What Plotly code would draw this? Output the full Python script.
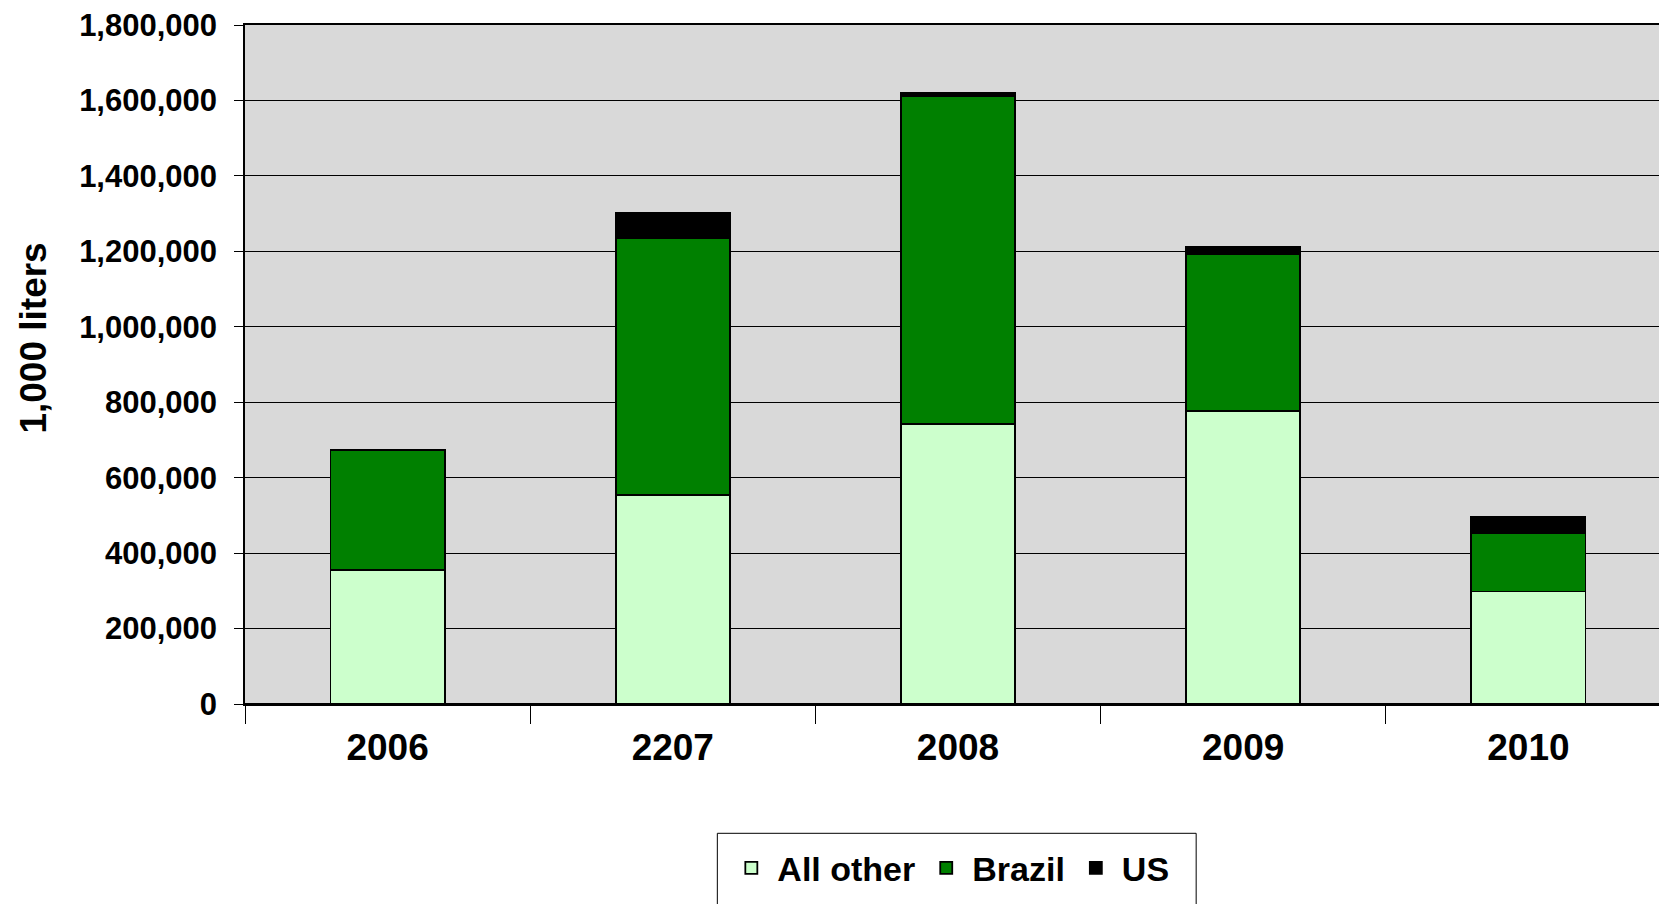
import plotly.graph_objects as go

categories = ["2006", "2207", "2008", "2009", "2010"]
all_other = [356000, 555000, 742000, 777000, 298000]
brazil = [318000, 680000, 870000, 416000, 156000]
us = [0, 68000, 7000, 19000, 43000]
y_ticks = [0, 200000, 400000, 600000, 800000, 1000000, 1200000, 1400000, 1600000, 1800000]

FONT = "Liberation Sans, Arial, sans-serif"
W, H = 1659, 904
L, R, T, B = 244.5, 0, 24.5, 199.5
PW, PH = W - L - R, H - T - B


def px_x(x):
    return (x - L) / PW


def px_y(y):
    return (H - B - y) / PH


fig = go.Figure()
for name, vals, col in [("All other", all_other, "#CCFFCC"),
                        ("Brazil", brazil, "#008000"),
                        ("US", us, "#000000")]:
    fig.add_trace(go.Bar(x=categories, y=vals, name=name, width=0.4,
                         marker=dict(color=col, line=dict(color="black", width=1.8))))

fig.update_layout(
    width=W, height=H, barmode="stack",
    margin=dict(l=L, r=R, t=T, b=B, pad=0),
    paper_bgcolor="white", plot_bgcolor="#D9D9D9",
    font=dict(family=FONT, color="black", weight="bold"),
    showlegend=True,
    legend=dict(orientation="h", x=px_x(725), xanchor="left", y=px_y(840), yanchor="top",
                bgcolor="rgba(0,0,0,0)", borderwidth=0,
                font=dict(size=34, family=FONT, weight="bold"), traceorder="normal",
                itemwidth=42),
)
fig.update_xaxes(type="category", range=[-0.5, 4.458], showgrid=False,
                 showline=True, linecolor="black", linewidth=2, mirror=True,
                 ticks="outside", tickson="boundaries", ticklen=18, tickcolor="black", tickwidth=1,
                 tickfont=dict(size=37, family=FONT, weight="bold"), ticklabelstandoff=10)
fig.update_yaxes(range=[0, 1800000], tickvals=y_ticks, tickformat=",",
                 showgrid=True, gridcolor="black", gridwidth=1,
                 zeroline=True, zerolinecolor="black", zerolinewidth=2,
                 showline=True, linecolor="black", linewidth=1.5,
                 ticks="outside", ticklen=9, tickcolor="black", tickwidth=1,
                 tickfont=dict(size=31, family=FONT, weight="bold"), ticklabelstandoff=11)
fig.add_annotation(text="1,000 liters", textangle=-90, xref="paper", yref="paper",
                   x=px_x(32), y=px_y(338),
                   xanchor="center", yanchor="middle", showarrow=False,
                   font=dict(size=37, family=FONT, weight="bold"))
# legend frame
fig.add_shape(type="rect", xref="paper", yref="paper",
              x0=px_x(717), x1=px_x(1196), y0=px_y(834), y1=px_y(915),
              line=dict(color="black", width=1), fillcolor="rgba(0,0,0,0)", layer="below")

fig.write_html("out.html", config={"displayModeBar": False},
               post_script="document.body.style.margin='0';document.body.style.overflow='hidden';")
